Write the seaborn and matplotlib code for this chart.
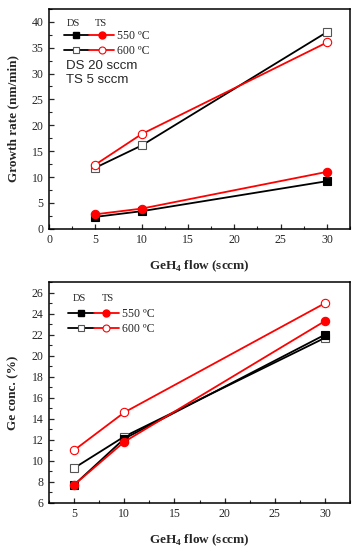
import numpy as np
import pandas as pd
import matplotlib
matplotlib.use("Agg")
import matplotlib.pyplot as plt
import seaborn as sns
from matplotlib.lines import Line2D
from matplotlib.legend_handler import HandlerTuple
from matplotlib.ticker import MultipleLocator

# --- data ---
flow = [5, 10, 30]

# growth rate (nm/min)
gr_ds_550 = [2.3, 3.4, 9.2]
gr_ts_550 = [2.8, 3.9, 11.0]
gr_ds_600 = [11.8, 16.1, 38.0]
gr_ts_600 = [12.4, 18.3, 36.0]

# Ge concentration (%)
ge_ds_550 = [7.7, 12.1, 22.0]
ge_ts_550 = [7.7, 11.8, 23.3]
ge_ds_600 = [9.3, 12.3, 21.7]
ge_ts_600 = [11.0, 14.6, 25.0]

temps = ["550 ºC", "600 ºC"]

sns.set_style("ticks")
plt.rcParams["font.family"] = ["Liberation Serif", "DejaVu Serif"]
plt.rcParams["xtick.direction"] = "in"
plt.rcParams["ytick.direction"] = "in"

fig = plt.figure(figsize=(3.58, 5.5), dpi=100)
ax1 = fig.add_axes([0.137, 0.584, 0.841, 0.400])
ax2 = fig.add_axes([0.137, 0.086, 0.841, 0.401])

# style per series: (color, marker, filled)
styles = {
    "DS 550": ("black", "s", True),
    "TS 550": ("red", "o", True),
    "DS 600": ("black", "s", False),
    "TS 600": ("red", "o", False),
}


def draw(ax, series):
    for name, vals in series.items():
        c, m, filled = styles[name]
        df = pd.DataFrame({"flow": flow, "val": vals})
        sns.lineplot(data=df, x="flow", y="val", ax=ax, color=c, lw=1.3,
                     marker=m, markersize=6 if m == "o" else 5.5,
                     markerfacecolor=c if filled else "white",
                     markeredgecolor=c if filled or c == "red" else "#555555",
                     markeredgewidth=0.8)


draw(ax1, {"DS 600": gr_ds_600, "TS 600": gr_ts_600,
           "DS 550": gr_ds_550, "TS 550": gr_ts_550})
draw(ax2, {"DS 600": ge_ds_600, "DS 550": ge_ds_550,
           "TS 550": ge_ts_550, "TS 600": ge_ts_600})

ax1.set_xlim(0, 32.5)
ax1.set_ylim(0, 42.5)
ax1.xaxis.set_major_locator(MultipleLocator(5))
ax1.xaxis.set_minor_locator(MultipleLocator(2.5))
ax1.yaxis.set_major_locator(MultipleLocator(5))
ax1.yaxis.set_minor_locator(MultipleLocator(2.5))
ax1.set_ylabel("Growth rate (nm/min)", fontsize=9.5, fontweight="bold",
               labelpad=9)

ax2.set_xlim(2.5, 32.5)
ax2.set_ylim(6, 27)
ax2.xaxis.set_major_locator(MultipleLocator(5))
ax2.xaxis.set_minor_locator(MultipleLocator(2.5))
ax2.yaxis.set_major_locator(MultipleLocator(2))
ax2.yaxis.set_minor_locator(MultipleLocator(1))
ax2.set_ylabel("Ge conc. (%)", fontsize=9.5, fontweight="bold", labelpad=9)

# legend anchor x, legend anchor y, header y, "DS" x, "TS" x
legend_pos = {ax1: (0.025, 0.935, 0.935, 0.08, 0.173),
              ax2: (0.04, 0.915, 0.928, 0.1, 0.195)}

for ax in (ax1, ax2):
    ax.set_xlabel("GeH$_\\mathregular{4}$ flow (sccm)", fontsize=9.5,
                  fontweight="bold", labelpad=9)
    ax.tick_params(which="major", length=3.5, width=0.9, labelsize=8.5, pad=4)
    ax.tick_params(which="minor", length=2, width=0.8)
    for s in ax.spines.values():
        s.set_linewidth(1.1)
        s.set_color("black")

    h550 = (Line2D([], [], color="black", marker="s", ms=4.5, lw=1.3),
            Line2D([], [], color="red", marker="o", ms=5, lw=1.3))
    h600 = (Line2D([], [], color="black", marker="s", ms=4.5, lw=1.3,
                   mfc="white", mec="#555555", mew=0.8),
            Line2D([], [], color="red", marker="o", ms=5, lw=1.3,
                   mfc="white", mec="red", mew=0.8))
    lx, ly, hy, dsx, tsx = legend_pos[ax]
    ax.legend([h550, h600], temps, loc="upper left",
              bbox_to_anchor=(lx, ly), frameon=False, fontsize=8.5,
              handler_map={tuple: HandlerTuple(ndivide=None, pad=0.0)},
              handlelength=4.3, handletextpad=0.25, labelspacing=0.25,
              borderaxespad=0.2)
    ax.text(dsx, hy, "DS", transform=ax.transAxes, fontsize=7.5,
            ha="center", va="center")
    ax.text(tsx, hy, "TS", transform=ax.transAxes, fontsize=7.5,
            ha="center", va="center")

ax1.text(0.055, 0.65, "DS 20 sccm\nTS 5 sccm", transform=ax1.transAxes,
         fontsize=9.5, family="Liberation Sans", va="bottom", linespacing=1.2)

fig.savefig("out.png", dpi=100)
